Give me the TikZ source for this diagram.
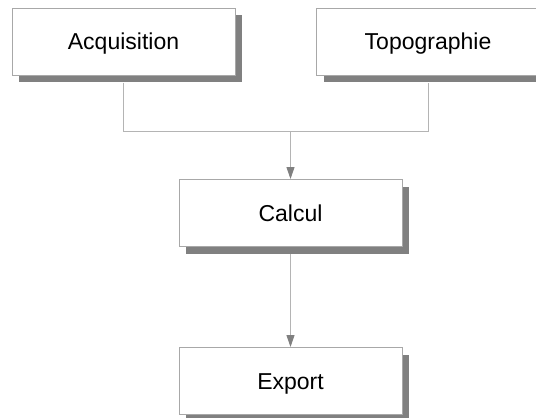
\documentclass[tikz,border=0pt]{standalone}
\usepackage{fontspec}
\setmainfont{Liberation Sans}
\usetikzlibrary{shadows,arrows.meta}
\definecolor{shadowgray}{HTML}{808080}
\definecolor{boxline}{HTML}{A8A8A8}
\definecolor{connline}{HTML}{B4B4B4}
\definecolor{tipgray}{HTML}{808080}
\tikzset{
  procbox/.style={draw=boxline, line width=1pt, fill=white, rectangle,
    minimum width=223pt, minimum height=67pt, inner sep=0pt,
    text height=16.5pt, text depth=0pt,
    font=\fontsize{23}{28}\selectfont,
    drop shadow={shadow xshift=7pt, shadow yshift=-7pt, fill=shadowgray, opacity=1}},
  conn/.style={draw=connline, line width=1pt},
  arr/.style={conn, -{Triangle[width=8pt, length=12pt, color=tipgray]}}
}
\begin{document}
\begin{tikzpicture}[x=1pt, y=-1pt]
\useasboundingbox (0,0) rectangle (536,418);
\clip (0,0) rectangle (536,418);
\node[procbox] (acq) at (123.5,41.5) {Acquisition};
\node[procbox] (topo) at (428,41.5) {Topographie};
\node[procbox] (calc) at (290.5,213) {Calcul};
\node[procbox] (exp) at (290.5,381) {Export};
\coordinate (j) at (290.5,131);
\draw[conn] ([yshift=-7pt]acq.south) -- (acq.south |- j) -- (topo.south |- j) -- ([yshift=-7pt]topo.south);
\draw[arr] (j) -- (calc.north);
\draw[arr] ([yshift=-7pt]calc.south) -- (exp.north);
\end{tikzpicture}
\end{document}
